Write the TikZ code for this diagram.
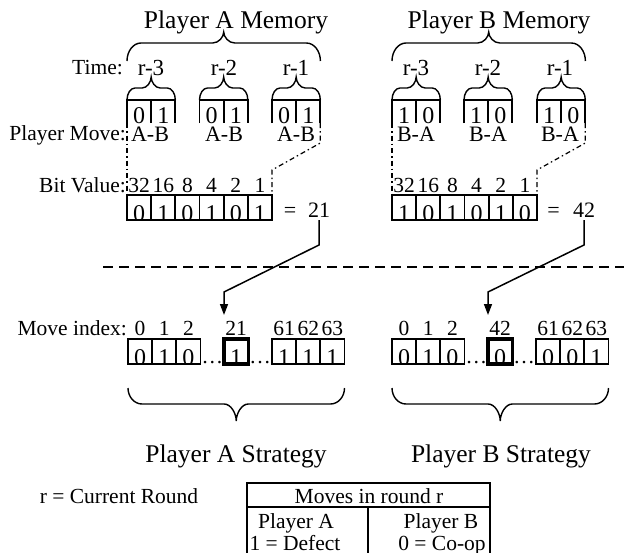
\documentclass[tikz,border=0pt]{standalone}
\usepackage{fontspec}
\setmainfont{Liberation Serif}
\usetikzlibrary{arrows.meta,calc}

\tikzset{
  lbl/.style={font=\fontsize{21.5}{25}\selectfont, inner sep=1pt, anchor=base},
  rlbl/.style={lbl, font=\fontsize{23}{27}\selectfont},
  mvlbl/.style={lbl, font=\fontsize{22}{26}\selectfont},
  title/.style={font=\fontsize{25.5}{30}\selectfont, inner sep=1pt, anchor=base},
  boxline/.style={line width=1.7pt},
  braceline/.style={line width=1.4pt},
  celldigit/.style={font=\fontsize{24}{28}\selectfont, inner sep=0pt, anchor=base},
  cellbase/.style={minimum width=24.17pt, minimum height=25pt, inner sep=0pt,
    outer sep=0pt, anchor=north west},
  bitcell/.style={cellbase, draw, boxline,
    path picture={\node[celldigit] at ([yshift=-1.5pt]path picture bounding box.south) {#1};}},
  hlcell/.style={bitcell=#1, line width=3.2pt},
  memcell/.style={cellbase, minimum height=23pt, fill=white,
    path picture={\node[celldigit] at ([yshift=-0.5pt]path picture bounding box.south) {#1};}},
  ddot/.style={line width=1.2pt, dash pattern=on 5pt off 3pt on 1.5pt off 3pt},
  sepline/.style={line width=1.8pt, dash pattern=on 10pt off 6pt},
  ptr/.style={line width=1.5pt, -{Triangle[length=11pt,width=8pt]}},
  % curly brace: width, end rise, tip rise, end radius, middle radius
  pics/curly/.style n args={5}{code={
    \draw[braceline] (0,0) .. controls (0,{-0.55*#2}) and ({0.45*#4},-#2) .. (#4,-#2)
      -- ({#1/2-#5},-#2) .. controls ({#1/2-0.45*#5},-#2) and ({#1/2},{-#2-0.55*#3}) .. ({#1/2},{-#2-#3})
      .. controls ({#1/2},{-#2-0.55*#3}) and ({#1/2+0.45*#5},-#2) .. ({#1/2+#5},-#2)
      -- ({#1-#4},-#2) .. controls ({#1-0.45*#4},-#2) and (#1,{-0.55*#2}) .. (#1,0);
  }}
}

\begin{document}
\begin{tikzpicture}[x=1pt,y=-1pt]
\useasboundingbox (0,0) rectangle (624,552);

% ---------- memory titles and braces ----------
\node[title] (memA) at (236,28) {Player A Memory};
\node[title] (memB) at (499,28) {Player B Memory};
\pic at (127,61) {curly={193.4}{18}{11}{14}{11}};
\pic at (392,61) {curly={193.4}{18}{11}{14}{11}};

\node[lbl, anchor=base east] (timelbl) at (124,74) {Time:};
\node[rlbl] (rA3) at (151,75) {r-3};
\node[rlbl] (rA2) at (224,75) {r-2};
\node[rlbl] (rA1) at (296,75) {r-1};
\node[rlbl] (rB3) at (416,75) {r-3};
\node[rlbl] (rB2) at (488,75) {r-2};
\node[rlbl] (rB1) at (560,75) {r-1};

% ---------- memory cells ----------
\node[memcell=0] (ma1a) at (127,100) {};
\node[memcell=1] (ma1b) at (151.17,100) {};
\node[memcell=0] (ma2a) at (199.5,100) {};
\node[memcell=1] (ma2b) at (223.67,100) {};
\node[memcell=0] (ma3a) at (272,100) {};
\node[memcell=1] (ma3b) at (296.17,100) {};
\node[memcell=1] (mb1a) at (392,100) {};
\node[memcell=0] (mb1b) at (416.17,100) {};
\node[memcell=1] (mb2a) at (464,100) {};
\node[memcell=0] (mb2b) at (488.17,100) {};
\node[memcell=1] (mb3a) at (537,100) {};
\node[memcell=0] (mb3b) at (561.17,100) {};

\foreach \l/\r in {ma1a/ma1b,ma2a/ma2b,ma3a/ma3b,mb1a/mb1b,mb2a/mb2b,mb3a/mb3b}{
  \draw[boxline] (\l.south west) -- (\l.north west) -- (\r.north east) -- (\r.south east);
  \draw[boxline] (\l.north east) -- (\l.south east);
  \pic at (\l.north west) {curly={48.34}{12}{11}{8}{9}};
}

\node[lbl, anchor=base east] (movelbl) at (127,140) {Player Move:};
\node[mvlbl] (pA3) at (150,141) {A-B};
\node[mvlbl] (pA2) at (224,141) {A-B};
\node[mvlbl] (pA1) at (296,141) {A-B};
\node[mvlbl] (pB3) at (416,141) {B-A};
\node[mvlbl] (pB2) at (488,141) {B-A};
\node[mvlbl] (pB1) at (560,141) {B-A};

% ---------- bit value rows ----------
\node[lbl, anchor=base east] (bitlbl) at (127,192) {Bit Value:};
\foreach \i/\v/\da/\db in {1/32/0/1,2/16/1/0,3/8/0/1,4/4/1/0,5/2/0/1,6/1/1/0}{
  \node[bitcell=\da] (bA\i) at ({127+24.17*(\i-1)},195) {};
  \node[bitcell=\db] (bB\i) at ({392+24.17*(\i-1)},195) {};
  \node[lbl] (vA\i) at (bA\i.center |- 0,192) {\v};
  \node[lbl] (vB\i) at (bB\i.center |- 0,192) {\v};
}
\node[mvlbl] (eqA) at (290,217) {=};
\node[mvlbl] (numA) at (319,217) {21};
\node[mvlbl] (eqB) at (553.5,217) {=};
\node[mvlbl] (numB) at (584,217) {42};

% outlines from memory to bit rows
\draw[ddot] (ma1a.south west) -- (bA1.north west);
\draw[ddot] (ma3b.south east) -- ++(0,20) -- ($(bA6.north east)+(0,-25)$) -- (bA6.north east);
\draw[ddot] (mb1a.south west) -- (bB1.north west);
\draw[ddot] (mb3b.south east) -- ++(0,20) -- ($(bB6.north east)+(0,-25)$) -- (bB6.north east);

% separator
\draw[sepline] (103,267) -- (626,267);

% ---------- strategy rows ----------
\node[lbl, anchor=base east] (idxlbl) at (128,335) {Move index:};

\node[bitcell=0] (sA0) at (128,339) {};
\node[bitcell=1] (sA1) at (152.17,339) {};
\node[bitcell=0] (sA2) at (176.34,339) {};
\node[hlcell=1] (sA21) at (224,339) {};
\node[bitcell=1] (sA61) at (272,339) {};
\node[bitcell=1] (sA62) at (296.17,339) {};
\node[bitcell=1] (sA63) at (320.34,339) {};

\node[bitcell=0] (sB0) at (392,339) {};
\node[bitcell=1] (sB1) at (416.17,339) {};
\node[bitcell=0] (sB2) at (440.34,339) {};
\node[hlcell=0] (sB42) at (488,339) {};
\node[bitcell=0] (sB61) at (536,339) {};
\node[bitcell=0] (sB62) at (560.17,339) {};
\node[bitcell=1] (sB63) at (584.34,339) {};

\foreach \c/\t in {sA0/0,sA1/1,sA2/2,sA21/21,sA61/61,sA62/62,sA63/63,
                   sB0/0,sB1/1,sB2/2,sB42/42,sB61/61,sB62/62,sB63/63}{
  \node[lbl] (i\c) at (\c.center |- 0,335) {\t};
}
\node[lbl] (dotsA1) at ($(sA2.south east)!0.5!(sA21.south west)+(0,-1)$) {…};
\node[lbl] (dotsA2) at ($(sA21.south east)!0.5!(sA61.south west)+(0,-1)$) {…};
\node[lbl] (dotsB1) at ($(sB2.south east)!0.5!(sB42.south west)+(0,-1)$) {…};
\node[lbl] (dotsB2) at ($(sB42.south east)!0.5!(sB61.south west)+(0,-1)$) {…};

% pointers from the memory value to the strategy entry
\coordinate (kA1) at (numA.south |- 0,245);
\coordinate (kA2) at (sA21.north west |- 0,292);
\coordinate (tipA) at (sA21.north west |- 0,315);
\draw[ptr] ([yshift=-2pt]numA.south) -- (kA1) -- (kA2) -- (tipA);
\coordinate (kB1) at (numB.south |- 0,245);
\coordinate (kB2) at (sB42.north west |- 0,292);
\coordinate (tipB) at (sB42.north west |- 0,315);
\draw[ptr] ([yshift=-2pt]numB.south) -- (kB1) -- (kB2) -- (tipB);

% strategy braces and titles
\pic[yscale=-1] at (128,388) {curly={216.5}{16}{17}{14}{12}};
\pic[yscale=-1] at (392,388) {curly={216.5}{16}{17}{14}{12}};
\node[title] (strA) at (236,462) {Player A Strategy};
\node[title] (strB) at (501,462) {Player B Strategy};

% ---------- legend ----------
\node[lbl] (rnote) at (119,503) {r = Current Round};
\draw[boxline] (247,483) rectangle (490,600);
\draw[boxline] (247,507) -- (490,507);
\draw[boxline] (368,507) -- (368,600);
\node[lbl] (thead) at (369,503) {Moves in round r};
\node[lbl] (tpa) at (296,528) {Player A};
\node[lbl] (tda) at (295,550) {1 = Defect};
\node[lbl] (tpb) at (441,528) {Player B};
\node[lbl] (tdb) at (442,550) {0 = Co-op};
\end{tikzpicture}
\end{document}
